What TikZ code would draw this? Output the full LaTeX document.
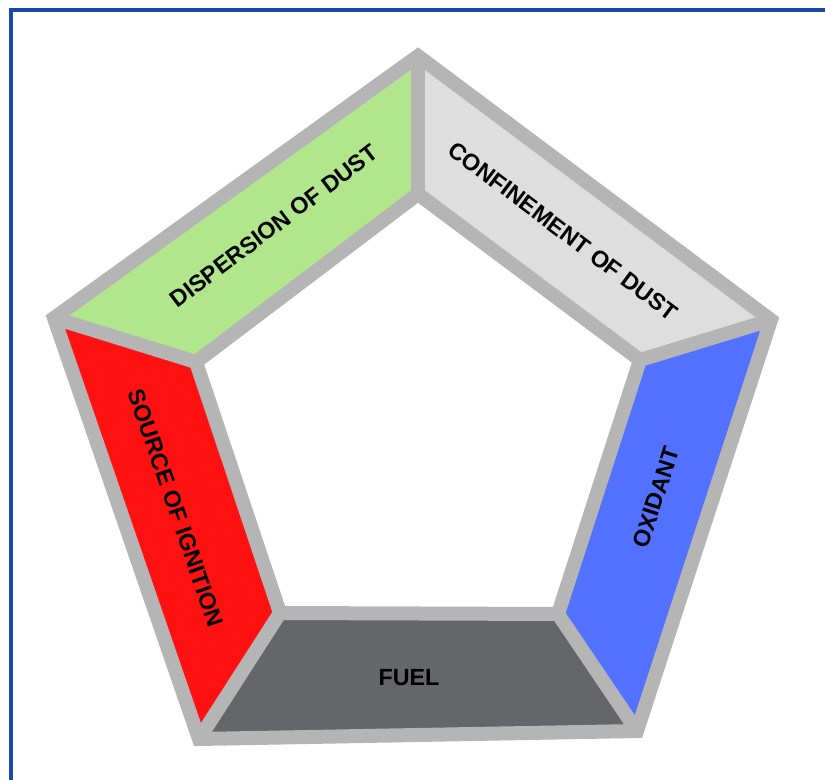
\documentclass[tikz,border=0pt]{standalone}
\usepackage{fontspec}
\setmainfont{Liberation Sans}
\usepackage{xcolor}
\usepackage{tikz}

\definecolor{rimgray}{HTML}{B5B5B5}
\definecolor{dustgreen}{HTML}{B2E68C}
\definecolor{dustgray}{HTML}{DEDEDE}
\definecolor{oxblue}{HTML}{5271FF}
\definecolor{igred}{HTML}{FF1111}
\definecolor{fuelgray}{HTML}{65666A}
\definecolor{frameblue}{HTML}{1A4BA8}

\begin{document}
\begin{tikzpicture}[
  x=0.75pt, y=-0.75pt,
  rim/.style={draw=rimgray, line width=10.5pt, line join=miter},
  lbl/.style={font=\bfseries\fontsize{17.5}{20}\selectfont, inner sep=0pt}
]
\useasboundingbox (0,0) rectangle (825,780);
\fill[white] (0,0) rectangle (825,780);
\draw[frameblue, line width=2.6pt] (11,785) -- (11,10) -- (830,10);

% outer and inner corners
\coordinate (oT) at (418,56);
\coordinate (oR) at (771,320);
\coordinate (oBR) at (637,731);
\coordinate (oBL) at (199,739);
\coordinate (oL) at (54,318);
\coordinate (iT) at (418,194);
\coordinate (iR) at (640,360);
\coordinate (iBR) at (558,614);
\coordinate (iBL) at (280,613);
\coordinate (iL) at (196,362);

% coloured sides
\fill[dustgreen] (oL) -- (oT) -- (iT) -- (iL) -- cycle;
\fill[dustgray] (oT) -- (oR) -- (iR) -- (iT) -- cycle;
\fill[oxblue] (oR) -- (oBR) -- (iBR) -- (iR) -- cycle;
\fill[fuelgray] (oBR) -- (oBL) -- (iBL) -- (iBR) -- cycle;
\fill[igred] (oBL) -- (oL) -- (iL) -- (iBL) -- cycle;

% rim
\foreach \c in {T,R,BR,BL,L}
  \draw[rim] (o\c) -- (i\c);
\draw[rim] (oT) -- (oR) -- (oBR) -- (oBL) -- (oL) -- cycle;
\draw[rim] (iT) -- (iR) -- (iBR) -- (iBL) -- (iL) -- cycle;

% labels
\node[lbl, rotate=37] (disp) at (274,226) {DISPERSION OF DUST};
\node[lbl, rotate=-37] (conf) at (563,231) {CONFINEMENT OF DUST};
\node[lbl, rotate=72] (oxid) at (656,497) {OXIDANT};
\node[lbl] (fuel) at (409,678) {FUEL};
\node[lbl, rotate=-71] (ign) at (176,508) {SOURCE OF IGNITION};
\end{tikzpicture}
\end{document}
